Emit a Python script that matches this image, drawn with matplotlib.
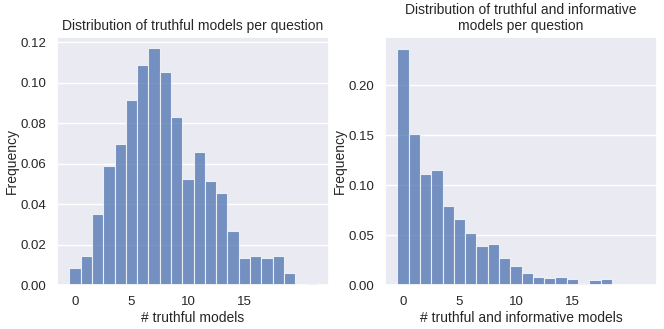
import numpy as np
import matplotlib
matplotlib.use('Agg')
import matplotlib.pyplot as plt
import seaborn as sns

sns.set_theme(style='darkgrid')
plt.rcParams['font.family'] = ['Liberation Sans', 'DejaVu Sans']

# Number of models (x) and frequency of questions (y)
n_models = list(range(22))
truthful_freq = [0.0084, 0.0145, 0.0353, 0.0586, 0.0695, 0.0916, 0.1088, 0.1172,
                 0.1051, 0.0830, 0.0523, 0.0659, 0.0512, 0.0452, 0.0267, 0.0132,
                 0.0145, 0.0132, 0.0145, 0.0058, 0.0, 0.0008]
true_info_freq = [0.2367, 0.1510, 0.1110, 0.1157, 0.0790, 0.0657, 0.0523, 0.0387,
                  0.0410, 0.0267, 0.0190, 0.0117, 0.0083, 0.0070, 0.0083, 0.0057,
                  0.0017, 0.0047, 0.0060, 0.0005, 0.0, 0.0]
xticks = [0, 5, 10, 15]

fig = plt.figure(figsize=(6.64, 3.29), dpi=100)
ax1 = fig.add_axes([57 / 664, 1 - 285 / 329, 272 / 664, 248 / 329])
ax2 = fig.add_axes([385 / 664, 1 - 285 / 329, 272 / 664, 248 / 329])

bar_color = sns.color_palette('deep')[0]

panels = [
    (ax1, truthful_freq, 'Distribution of truthful models per question', '# truthful models'),
    (ax2, true_info_freq, 'Distribution of truthful and informative\nmodels per question',
     '# truthful and informative models'),
]
for ax, freq, title, xlabel in panels:
    ax.bar(n_models, freq, width=1.0, color=bar_color, alpha=0.75,
           edgecolor='white', linewidth=0.8)
    ax.set_xlim(-1.6, 22.5)
    ax.set_xticks(xticks)
    ax.grid(axis='x', visible=False)
    ax.set_title(title, fontsize=10, pad=5)
    ax.set_xlabel(xlabel, fontsize=10, labelpad=2)
    ax.set_ylabel('Frequency', fontsize=10, labelpad=1)
    ax.tick_params(labelsize=9.5, pad=2)

ax1.set_ylim(0, 0.1225)
ax1.set_yticks([0.0, 0.02, 0.04, 0.06, 0.08, 0.10, 0.12])
ax2.set_ylim(0, 0.2485)
ax2.set_yticks([0.0, 0.05, 0.10, 0.15, 0.20])
ax1.yaxis.set_major_formatter(matplotlib.ticker.FormatStrFormatter('%.2f'))
ax2.yaxis.set_major_formatter(matplotlib.ticker.FormatStrFormatter('%.2f'))

fig.savefig('out.png', dpi=100)
